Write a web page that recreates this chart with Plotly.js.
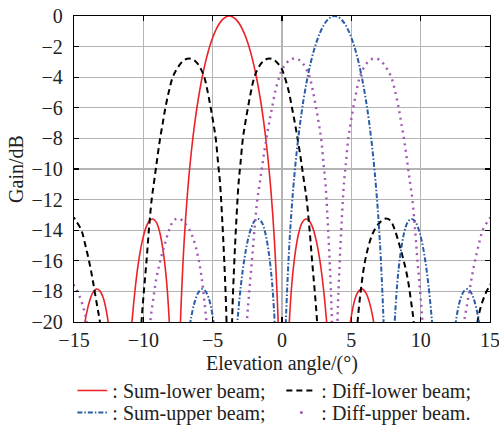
<!DOCTYPE html>
<html>
<head>
<meta charset="utf-8">
<script src="https://cdn.plot.ly/plotly-3.0.1.min.js"></script>
<style>
html,body{margin:0;padding:0;background:#fff;}
#chart{width:499px;height:436px;}
</style>
</head>
<body>
<div id="chart"></div>
<script>
// Sum-lower beam (red, solid) — lobes separated by null
const sumLowerX = [-14.35,-14.15,-13.9,-13.65,-13.4,-13.15,-12.9,-12.65,-12.4, null,
  -10.95,-10.8,-10.55,-10.3,-10.05,-9.8,-9.55,-9.3,-9.05,-8.8,-8.55,-8.3,-8.05, null,
  -7.5,-7.4,-7.3,-7.05,-6.8,-6.55,-6.3,-6.05,-5.8,-5.55,-5.3,-5.05,-4.8,-4.55,-4.3,-4.05,-3.8,
  -3.55,-3.3,-3.05,-2.8,-2.55,-2.3,-2.05,-1.8,-1.55,-1.3,-1.05,-0.8,-0.55,-0.3,-0.2,-0.1, null,
  0.45,0.7,0.95,1.2,1.45,1.7,1.95,2.2,2.45,2.7,2.95,3.2,3.35, null,
  4.8,5.05,5.3,5.55,5.8,6.05,6.3,6.55,6.75];
const sumLowerY = [-20.9,-19.7,-18.7,-18.1,-17.85,-17.95,-18.4,-19.35,-20.9, null,
  -21.7,-19.8,-17.5,-15.8,-14.6,-13.8,-13.37,-13.27,-13.5,-14.2,-15.5,-17.6,-21.3, null,
  -26.3,-22.3,-19.41,-14.62,-11.4,-8.97,-7.05,-5.49,-4.2,-3.13,-2.25,-1.54,-0.97,-0.54,-0.24,-0.06,0,
  -0.06,-0.24,-0.54,-0.97,-1.54,-2.25,-3.13,-4.2,-5.49,-7.05,-8.97,-11.4,-14.62,-19.41,-22.3,-26.3, null,
  -21.3,-17.6,-15.5,-14.2,-13.5,-13.27,-13.37,-13.8,-14.6,-15.8,-17.5,-19.8,-21.7, null,
  -20.9,-19.35,-18.4,-17.95,-17.85,-18.1,-18.7,-19.7,-20.9];

// Sum-upper beam (blue, dash-dot)
const sumUpperX = [-6.75,-6.55,-6.3,-6.05,-5.8,-5.55,-5.3,-5.05,-4.8, null,
  -3.35,-3.2,-2.95,-2.7,-2.45,-2.2,-1.95,-1.7,-1.45,-1.2,-0.95,-0.7,-0.45, null,
  0.1,0.2,0.3,0.55,0.8,1.05,1.3,1.55,1.8,2.05,2.3,2.55,2.8,3.05,3.3,3.55,3.8,
  4.05,4.3,4.55,4.8,5.05,5.3,5.55,5.8,6.05,6.3,6.55,6.8,7.05,7.3,7.4,7.5, null,
  8.05,8.3,8.55,8.8,9.05,9.3,9.55,9.8,10.05,10.3,10.55,10.8,10.95, null,
  12.4,12.65,12.9,13.15,13.4,13.65,13.9,14.15,14.35];
const sumUpperY = [-20.9,-19.7,-18.7,-18.1,-17.85,-17.95,-18.4,-19.35,-20.9, null,
  -21.7,-19.8,-17.5,-15.8,-14.6,-13.8,-13.37,-13.27,-13.5,-14.2,-15.5,-17.6,-21.3, null,
  -26.3,-22.3,-19.41,-14.62,-11.4,-8.97,-7.05,-5.49,-4.2,-3.13,-2.25,-1.54,-0.97,-0.54,-0.24,-0.06,0,
  -0.06,-0.24,-0.54,-0.97,-1.54,-2.25,-3.13,-4.2,-5.49,-7.05,-8.97,-11.4,-14.62,-19.41,-22.3,-26.3, null,
  -21.3,-17.6,-15.5,-14.2,-13.5,-13.27,-13.37,-13.8,-14.6,-15.8,-17.5,-19.8,-21.7, null,
  -20.9,-19.35,-18.4,-17.95,-17.85,-18.1,-18.7,-19.7,-20.9];

// Diff-lower beam (black, dashed)
const diffLowerX = [-15.3,-15.0,-14.88,-14.47,-14.2,-13.92,-13.7,-13.51,-13.3,-13.13,-13.0, null,
  -10.3,-10.13,-9.96,-9.77,-9.6,-9.4,-9.25,-9.1,-8.95,-8.79,-8.6,-8.41,-8.15,-7.88,-7.6,-7.3,-7.0,-6.7,
  -6.4,-6.1,-5.8,-5.57,-5.35,-5.14,-4.95,-4.78,-4.6,-4.47,-4.3,-4.15,-4.0,-3.88, null,
  -3.72,-3.6,-3.45,-3.3,-3.13,-3.0,-2.82,-2.65,-2.46,-2.25,-2.03,-1.8,-1.5,-1.2,-0.9,-0.6,-0.3,0.0,
  0.2,0.48,0.72,0.93,1.12,1.3,1.46,1.62,1.78,1.99,2.17,2.36,2.53,2.7, null,
  5.3,5.45,5.7,5.95,6.25,6.55,6.95,7.4,7.8,8.1,8.45,8.75,9.05,9.3,9.5,9.65, null,
  13.95,14.1,14.28,14.65,15.0,15.3];
const diffLowerY = [-13.15,-13.2,-13.35,-14.0,-14.9,-16.0,-17.0,-18.0,-19.1,-20.0,-21.5, null,
  -24,-20,-18,-16,-14,-12,-11,-10,-9,-8,-7,-6,-4.9,-4,-3.5,-3.1,-2.85,-2.78,
  -2.85,-3.1,-3.55,-4.1,-5,-6,-7,-8,-9.7,-10.9,-13.5,-16.3,-20,-28, null,
  -28,-20,-16.3,-13.5,-10.9,-9.7,-8,-7,-6,-5,-4.1,-3.55,-3.1,-2.85,-2.78,-2.85,-3.1,-3.5,
  -4,-4.9,-6,-7,-8,-9,-10,-11,-12,-14,-16,-18,-20,-24, null,
  -22,-20,-17.8,-16.2,-15.0,-14.2,-13.6,-13.25,-13.35,-13.9,-14.9,-15.9,-17.1,-18.6,-20,-22, null,
  -22,-20,-19.2,-18.2,-17.6,-17.2];

// Diff-upper beam (purple, dotted)
const diffUpperX = [-15.3,-15.0,-14.65,-14.28,-14.1,-13.95, null,
  -9.65,-9.5,-9.3,-9.05,-8.75,-8.45,-8.1,-7.8,-7.4,-6.95,-6.55,-6.25,-5.95,-5.7,-5.45,-5.3, null,
  -2.7,-2.53,-2.36,-2.17,-1.99,-1.78,-1.62,-1.46,-1.3,-1.12,-0.93,-0.72,-0.48,-0.2,
  0.0,0.3,0.6,0.9,1.2,1.5,1.8,2.03,2.25,2.46,2.65,2.82,3.0,3.13,3.3,3.45,3.6,3.72, null,
  3.88,4.0,4.15,4.3,4.47,4.6,4.78,4.95,5.14,5.35,5.57,5.8,6.1,6.4,6.7,7.0,7.3,7.6,7.88,8.15,
  8.41,8.6,8.79,8.95,9.1,9.25,9.4,9.6,9.77,9.96,10.13,10.3, null,
  13.0,13.13,13.3,13.51,13.7,13.92,14.2,14.47,14.88,15.0,15.3];
const diffUpperY = [-17.2,-17.6,-18.2,-19.2,-20,-22, null,
  -22,-20,-18.6,-17.1,-15.9,-14.9,-13.9,-13.35,-13.25,-13.6,-14.2,-15.0,-16.2,-17.8,-20,-22, null,
  -24,-20,-18,-16,-14,-12,-11,-10,-9,-8,-7,-6,-4.9,-4,
  -3.5,-3.1,-2.85,-2.78,-2.85,-3.1,-3.55,-4.1,-5,-6,-7,-8,-9.7,-10.9,-13.5,-16.3,-20,-28, null,
  -28,-20,-16.3,-13.5,-10.9,-9.7,-8,-7,-6,-5,-4.1,-3.55,-3.1,-2.85,-2.78,-2.85,-3.1,-3.5,-4,-4.9,
  -6,-7,-8,-9,-10,-11,-12,-14,-16,-18,-20,-24, null,
  -21.5,-20,-19.1,-18,-17,-16,-14.9,-14,-13.35,-13.2,-13.15];

const xTicks = [-15,-10,-5,0,5,10,15];
const yTicks = [0,-2,-4,-6,-8,-10,-12,-14,-16,-18,-20];
const seriesNames = [': Sum-lower beam;', ': Diff-lower beam;', ': Sum-upper beam;', ': Diff-upper beam.'];
const xTitle = 'Elevation angle/(°)';
const yTitle = 'Gain/dB';

const FONT = '"Liberation Serif", "Times New Roman", serif';
const colors = {red:'#ec2227', black:'#000000', blue:'#2b5ca8', purple:'#a057b3'};

const traces = [
  {x: sumLowerX, y: sumLowerY, name: seriesNames[0], mode:'lines', connectgaps:false, legend:'legend',
   line:{color:colors.red, width:1.6, shape:'spline'}},
  {x: diffLowerX, y: diffLowerY, name: seriesNames[1], mode:'lines', connectgaps:false, legend:'legend',
   line:{color:colors.black, width:2, dash:'6px,4px', shape:'spline'}},
  {x: sumUpperX, y: sumUpperY, name: seriesNames[2], mode:'lines', connectgaps:false, legend:'legend2',
   line:{color:colors.blue, width:2, dash:'5px,2px,1.5px,2px', shape:'spline'}},
  {x: diffUpperX, y: diffUpperY, name: seriesNames[3], mode:'lines', connectgaps:false, showlegend:false, legend:'legend2',
   line:{color:colors.purple, width:2.4, dash:'2px,4.5px', shape:'spline'}},
  {x: [null], y: [null], name: seriesNames[3], mode:'markers', legend:'legend2',
   marker:{color:colors.purple, size:3}}
];

const axisCommon = {
  showgrid:true, gridcolor:'#b4b4b4', gridwidth:1.2,
  zeroline:false, showline:true, linecolor:'#000', linewidth:1.3,
  mirror:'ticks', ticks:'inside', ticklen:5, tickwidth:1.2, tickcolor:'#000',
  ticklabeloverflow:'allow', automargin:false,
  tickfont:{family:FONT, size:20, color:'#222'}
};

const legendCommon = {orientation:'h', xref:'container', yref:'container', x:0.145, xanchor:'left', yanchor:'top',
  entrywidth:164, itemwidth:30, tracegroupgap:0,
  font:{family:FONT, size:20, color:'#222'}, bgcolor:'rgba(0,0,0,0)'};

const layout = {
  width:499, height:436,
  margin:{l:74, r:9, t:16, b:114},
  paper_bgcolor:'#fff', plot_bgcolor:'#fff',
  font:{family:FONT, size:20, color:'#222'},
  xaxis: Object.assign({}, axisCommon, {
    range:[-15,15], tickmode:'array', tickvals:xTicks, ticktext:xTicks.map(v => v<0 ? '\u2212'+Math.abs(v) : String(v))
  }),
  yaxis: Object.assign({}, axisCommon, {
    range:[-20,0], tickmode:'array', tickvals:yTicks, ticktext:yTicks.map(v => v<0 ? '\u2212'+Math.abs(v) : String(v)),
    ticklabelstandoff:6,
    title:{text:yTitle, font:{family:FONT, size:20, color:'#222'}, standoff:2}
  }),
  annotations:[
    {text:xTitle, xref:'paper', yref:'paper', x:0.5, y:-0.137, xanchor:'center', yanchor:'middle',
     showarrow:false, font:{family:FONT, size:20, color:'#222'}}
  ],
  showlegend:true,
  legend: Object.assign({}, legendCommon, {y:0.149}),
  legend2: Object.assign({}, legendCommon, {y:0.0986})
};

Plotly.newPlot('chart', traces, layout, {displayModeBar:false, staticPlot:true});
</script>
</body>
</html>
